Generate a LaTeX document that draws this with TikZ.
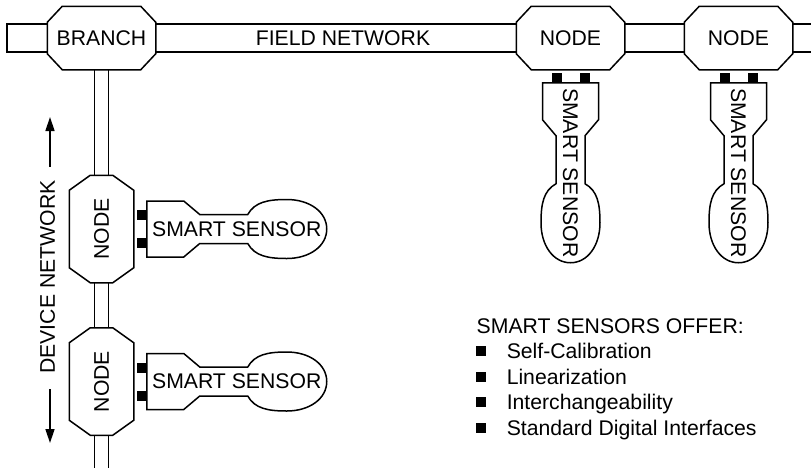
\documentclass[tikz,border=0pt]{standalone}
\usepackage{fontspec}
\setmainfont{Liberation Sans}
\usetikzlibrary{positioning,calc,arrows.meta}

\begin{document}
\begin{tikzpicture}[x=0.5pt,y=-0.5pt,line width=0.75pt,
    font=\fontsize{10.6}{12.5}\selectfont,
    hnode/.style={minimum width=53.5pt,minimum height=31pt,inner sep=0pt},
    vnode/.style={minimum width=31.5pt,minimum height=53pt,inner sep=0pt},
    listitem/.style={anchor=base west,inner sep=0pt},
    arr/.style={-{Triangle[length=7pt,width=4.5pt]}}]
      \useasboundingbox (0,0) rectangle (811,468);

      % Field network nodes
      \node[hnode] (branch) at (101.5,38) {BRANCH};
      \node[hnode] (fnodeA) at (570.5,38) {NODE};
      \node[hnode] (fnodeB) at (738.5,38) {NODE};
      \node (fieldnet) at (343,38) {FIELD NETWORK};
      \coordinate (fieldL) at (7,38);
      \coordinate (fieldR) at (811,38);

      % Device network nodes
      \node[vnode] (vnodeA) at (101.5,229) {\rotatebox{90}{NODE}};
      \node[vnode] (vnodeB) at (101.5,381.5) {\rotatebox{90}{NODE}};
      \coordinate (devend) at (101.5,468);

      % Octagon outlines
      \foreach \n/\cx/\cy in {branch/15/16,fnodeA/15/16,fnodeB/15/16,vnodeA/21/15,vnodeB/21/15}
        \draw ($(\n.north west)+(\cx,0)$) -- ($(\n.north east)+(-\cx,0)$) -- ($(\n.north east)+(0,\cy)$)
          -- ($(\n.south east)+(0,-\cy)$) -- ($(\n.south east)+(-\cx,0)$) -- ($(\n.south west)+(\cx,0)$)
          -- ($(\n.south west)+(0,-\cy)$) -- ($(\n.north west)+(0,\cy)$) -- cycle;

      % Field network bus
      \foreach \a/\b in {branch/fnodeA,fnodeA/fnodeB}
        \foreach \s in {-14,14}
          \draw ($(\a.east)+(0,\s)$) -- ($(\b.west)+(0,\s)$);
      \draw ($(branch.west)+(0,-14)$) -- ($(fieldL)+(0,-14)$) -- ($(fieldL)+(0,14)$) -- ($(branch.west)+(0,14)$);
      \foreach \s in {-14,14}
        \draw ($(fnodeB.east)+(0,\s)$) -- ($(fieldR)+(0,\s)$);

      % Device network bus
      \foreach \a/\b in {branch/vnodeA,vnodeA/vnodeB}
        \foreach \s in {-7,7}
          \draw ($(\a.south)+(\s,0)$) -- ($(\b.north)+(\s,0)$);
      \foreach \s in {-7,7}
        \draw ($(vnodeB.south)+(\s,0)$) -- ($(devend)+(\s,0)$);

      % Smart sensors with their pads
      \foreach \n/\side/\ang in {vnodeA/east/0,vnodeB/east/0,fnodeA/south/-90,fnodeB/south/-90} {
        \begin{scope}[shift={(\n.\side)},rotate=\ang]
          \fill (3,-19) rectangle (13,-9);
          \fill (3,9) rectangle (13,19);
          \draw (13,-28) -- (50,-28) -- (66,-14.5) -- (114,-14.5)
            .. controls (121,-27) and (134,-29.5) .. (153,-29.5)
            .. controls (176,-29.5) and (193,-17) .. (193,0)
            .. controls (193,17) and (176,29.5) .. (153,29.5)
            .. controls (134,29.5) and (121,27) .. (114,14.5)
            -- (66,14.5) -- (50,28) -- (13,28) -- cycle;
          \node[rotate=\ang] (sens-\n) at (103,0) {SMART SENSOR};
        \end{scope}
      }

      % Device network label and arrows
      \node[rotate=90,inner sep=0pt] (devnet) at (47.5,277) {DEVICE NETWORK};
      \coordinate (devtop) at (50,117);
      \coordinate (devbot) at (50,443);
      \draw[arr] ($(devtop |- devnet.east)+(0,-13)$) -- (devtop);
      \draw[arr] ($(devbot |- devnet.west)+(0,15)$) -- (devbot);

      % Feature list
      \node[listitem] (offer) at (476,333) {SMART SENSORS OFFER:};
      \foreach \t [count=\i] in {Self-Calibration,Linearization,Interchangeability,Standard Digital Interfaces} {
        \node[listitem] (item\i) at (506,333+25.5*\i) {\t};
        \fill ($(item\i.base west)+(-30,-12.5)$) rectangle ++(10,10);
      }
    \end{tikzpicture}
\end{document}
